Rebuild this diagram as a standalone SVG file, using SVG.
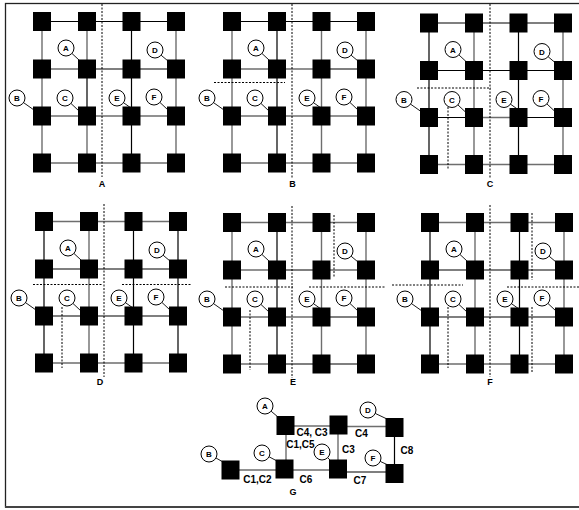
<svg xmlns="http://www.w3.org/2000/svg" xmlns:xlink="http://www.w3.org/1999/xlink" width="579" height="510" viewBox="0 0 579 510">
<style>
.k{stroke:#000;stroke-width:1.2;fill:none}
.g{stroke:#6e6e6e;stroke-width:1.4;fill:none}
.lead{stroke:#000;stroke-width:0.9;fill:none}
.dash{stroke:#000;stroke-width:1;stroke-dasharray:2 1.5;fill:none}
.lbl circle{fill:#fff;stroke:#000;stroke-width:1}
.ct{font-family:"Liberation Sans",Arial,sans-serif;font-weight:bold;font-size:8px;text-anchor:middle}
.pt{font-family:"Liberation Sans",Arial,sans-serif;font-weight:bold;font-size:9px;text-anchor:middle}
.gt{font-family:"Liberation Sans",Arial,sans-serif;font-weight:bold;font-size:10px;text-anchor:middle}
</style>
<defs>
<rect id="sq" x="-9" y="-9.5" width="18" height="19" fill="#000"/>
<g id="grid16">
<use href="#sq" x="42" y="21.5"/><use href="#sq" x="87" y="21.5"/><use href="#sq" x="131.5" y="21.5"/><use href="#sq" x="176" y="21.5"/>
<use href="#sq" x="42" y="69"/><use href="#sq" x="87" y="69"/><use href="#sq" x="131.5" y="69"/><use href="#sq" x="176" y="69"/>
<use href="#sq" x="42" y="116"/><use href="#sq" x="87" y="116"/><use href="#sq" x="131.5" y="116"/><use href="#sq" x="176" y="116"/>
<use href="#sq" x="42" y="163"/><use href="#sq" x="87" y="163"/><use href="#sq" x="131.5" y="163"/><use href="#sq" x="176" y="163"/>
</g>
<path id="leads" class="lead" d="M71.9 53.4L79 60M161.1 55.2L168 61M23.5 102.6L34 110M70.9 103.4L79 111M123.5 102.7L131 108M159.9 102.4L168 110"/>
<g id="circles">
<g class="lbl"><circle cx="66" cy="48" r="8"/><text class="ct" x="66" y="51">A</text></g>
<g class="lbl"><circle cx="155" cy="50" r="8"/><text class="ct" x="155" y="53">D</text></g>
<g class="lbl"><circle cx="17" cy="98" r="8"/><text class="ct" x="17" y="101">B</text></g>
<g class="lbl"><circle cx="65" cy="98" r="8"/><text class="ct" x="65" y="101">C</text></g>
<g class="lbl"><circle cx="117" cy="98" r="8"/><text class="ct" x="117" y="101">E</text></g>
<g class="lbl"><circle cx="154" cy="97" r="8"/><text class="ct" x="154" y="100">F</text></g>
</g>
</defs>

<rect x="5.5" y="3.5" width="580" height="503.5" fill="#fff" stroke="#222" stroke-width="1.3"/>
<line x1="5" y1="507" x2="579" y2="507" stroke="#444" stroke-width="2"/>

<g id="connectors">
<g transform="translate(0,0)">
<path class="g" d="M42 69H87M42 116H176M42 163H176M42 21.5V163M87 21.5V69M87 116V163M176 21.5V163"/>
<path class="k" d="M42 21.5H176M87 69H176M87 69V116M131.5 21.5V163"/>
<use href="#leads"/>
</g>
<g transform="translate(190,0)">
<path class="g" d="M42 69H131.5M42 116H176M42 163H176M42 21.5V163M131.5 21.5V163M176 21.5V163"/>
<path class="k" d="M42 21.5H176M131.5 69H176M87 21.5V163"/>
<use href="#leads"/>
</g>
<g transform="translate(387,1.5)">
<path class="g" d="M87 116H131.5M42 163H176M87 21.5V163M176 21.5V163"/>
<path class="k" d="M42 21.5H176M42 69H176M42 116H87M131.5 116H176M42 21.5V163M131.5 21.5V163"/>
<use href="#leads"/>
</g>
<g transform="translate(2,200)">
<path class="g" d="M42 21.5H176M42 163H176M87 21.5V163"/>
<path class="k" d="M42 69H176M42 116H176M42 21.5V163M131.5 21.5V163M176 21.5V163"/>
<use href="#leads"/>
</g>
<g transform="translate(190,201)">
<path class="g" d="M42 21.5H176M42 69H87M131.5 69H176M42 116H131.5M42 163H87M42 21.5V163M131.5 21.5V163M176 21.5V163"/>
<path class="k" d="M87 69H131.5M131.5 116H176M87 163H176M87 21.5V163"/>
<use href="#leads"/>
</g>
<g transform="translate(388,201)">
<path class="g" d="M42 21.5H176M42 163H176M87 21.5V163M176 21.5V163"/>
<path class="k" d="M42 69H176M42 116H176M42 21.5V163M131.5 21.5V163"/>
<use href="#leads"/>
</g>
<g id="G-connectors">
<path class="g" d="M285.5 426H338.5M338.5 426.5H394.5M286 425.5V469M338 425V469M230.5 470H284.5M284.5 470H338"/>
<path class="k" d="M394.5 427.5V473.5M338 472H394.5"/>
<path class="lead" d="M271.1 411.2L278 417M375.2 413.4L387 419M216 458L223 462M269.1 456.8L277 461M327.7 457.7L331 461M380.2 461.4L388 465"/>
</g>
</g>

<g id="partitions">
<path class="dash" d="M102 4V177"/>
<path class="dash" d="M292 4V178M214 82.5H285"/>
<path class="dash" d="M490 4V179M417 88H491M448 107V170"/>
<path class="dash" d="M104 204V377M33 284.5H102M122 284.5H192M62 307V368"/>
<path class="dash" d="M292 206V378M225 287H293M309 287H385M334 215V278M250 310V370"/>
<path class="dash" d="M490 205V377M392 285H463M507 287H579M532 213V280M532 307V372M448 307V368"/>
</g>

<g id="panelA"><use id="A-nodes" href="#grid16"/><use id="A-labels" href="#circles"/><text class="pt" x="102" y="186.5">A</text></g>
<g id="panelB" transform="translate(190,0)"><use id="B-nodes" href="#grid16"/><use id="B-labels" href="#circles"/><text class="pt" x="102.5" y="186.5">B</text></g>
<g id="panelC" transform="translate(387,1.5)"><use id="C-nodes" href="#grid16"/><use id="C-labels" href="#circles"/><text class="pt" x="103" y="185">C</text></g>
<g id="panelD" transform="translate(2,200)"><use id="D-nodes" href="#grid16"/><use id="D-labels" href="#circles"/><text class="pt" x="98" y="184.5">D</text></g>
<g id="panelE" transform="translate(190,201)"><use id="E-nodes" href="#grid16"/><use id="E-labels" href="#circles"/><text class="pt" x="103" y="183.5">E</text></g>
<g id="panelF" transform="translate(388,201)"><use id="F-nodes" href="#grid16"/><use id="F-labels" href="#circles"/><text class="pt" x="102" y="183.5">F</text></g>

<g id="panelG">
<use id="G-nA" href="#sq" x="285.5" y="425.5"/>
<use id="G-nTop" href="#sq" x="338.5" y="425"/>
<use id="G-nD" href="#sq" x="394.5" y="427.5"/>
<use id="G-nB" href="#sq" x="230.5" y="470"/>
<use id="G-nC" href="#sq" x="284.5" y="469"/>
<use id="G-nE" href="#sq" x="338" y="469"/>
<use id="G-nF" href="#sq" x="394.5" y="473.5"/>
<g class="lbl" id="G-A"><circle cx="265" cy="406" r="8"/><text class="ct" x="265" y="409">A</text></g>
<g class="lbl" id="G-D"><circle cx="368" cy="410" r="8"/><text class="ct" x="368" y="413">D</text></g>
<g class="lbl" id="G-B"><circle cx="209" cy="454" r="8"/><text class="ct" x="209" y="457">B</text></g>
<g class="lbl" id="G-C"><circle cx="262" cy="453" r="8"/><text class="ct" x="262" y="456">C</text></g>
<g class="lbl" id="G-E"><circle cx="322" cy="452" r="8"/><text class="ct" x="322" y="455">E</text></g>
<g class="lbl" id="G-F"><circle cx="373" cy="458" r="8"/><text class="ct" x="373" y="461">F</text></g>
<text class="gt" x="312" y="435.5">C4, C3</text>
<text class="gt" x="361.5" y="436.5">C4</text>
<text class="gt" x="300.5" y="448">C1,C5</text>
<text class="gt" x="348.5" y="453">C3</text>
<text class="gt" x="407" y="454">C8</text>
<text class="gt" x="257.5" y="482.5">C1,C2</text>
<text class="gt" x="306" y="483">C6</text>
<text class="gt" x="360" y="484">C7</text>
<text class="pt" x="293" y="495">G</text>
</g>
</svg>
